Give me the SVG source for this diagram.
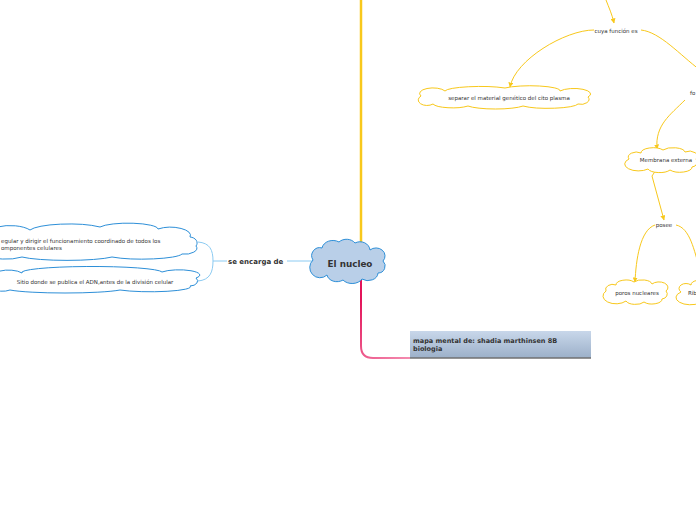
<svg xmlns="http://www.w3.org/2000/svg" width="696" height="520" viewBox="0 0 696 520">
<style>
.t{font-family:"DejaVu Sans",Verdana,sans-serif;fill:#333}
.s{font-size:5.5px}
.b{font-weight:bold}
.yc{fill:#fff;stroke:#f8c81c;stroke-width:1}
.bc{fill:#fff;stroke:#2d8fd8;stroke-width:1}
.yl{fill:none;stroke:#f8c81c;stroke-width:1}
.bl{fill:none;stroke:#8ccbf2;stroke-width:1}
</style>
<defs>
<marker id="ah" viewBox="0 0 10 10" refX="9" refY="5" markerWidth="5" markerHeight="5" orient="auto" markerUnits="userSpaceOnUse">
<path d="M0 0 L10 5 L0 10 z" fill="#f8c81c"/>
</marker>
<linearGradient id="tg" x1="0" y1="0" x2="0" y2="1">
<stop offset="0" stop-color="#c8d7ea"/>
<stop offset="1" stop-color="#9cb0c9"/>
</linearGradient>
<linearGradient id="pg" gradientUnits="userSpaceOnUse" x1="361" y1="300" x2="410" y2="358">
<stop offset="0" stop-color="#e3145a"/>
<stop offset="1" stop-color="#f48cb0"/>
</linearGradient>
</defs>
<rect width="696" height="520" fill="#fff"/>
<g id="connectors">
<line x1="361" y1="0" x2="361" y2="250" stroke="#f8c81c" stroke-width="2.5"/>
<path d="M361 276 L361 346 Q361 358 373 358 L410 358" fill="none" stroke="url(#pg)" stroke-width="2"/>
<line x1="287" y1="261" x2="313" y2="261" class="bl"/>
<line x1="213" y1="261" x2="227" y2="261" class="bl"/>
<path d="M198 242 C210 243 213 250 213 261 C213 272 210 280 198 281" class="bl"/>
<path d="M606 0 C609 8 612 14 614 23" class="yl" marker-end="url(#ah)"/>
<path d="M594 30 C565 30 515 60 510 87" class="yl" marker-end="url(#ah)"/>
<path d="M641 30 C660 32 680 55 700 70" class="yl"/>
<path d="M685 100 C670 115 655 125 657 149" class="yl" marker-end="url(#ah)"/>
<path d="M656 170 L652 176 L664 220" class="yl" marker-end="url(#ah)"/>
<path d="M655 225 C640 230 636 260 635 282" class="yl" marker-end="url(#ah)"/>
<path d="M676 225 C690 228 694 250 700 270" class="yl"/>
</g>
<g id="central">
<path d="M313 260 a8 8 0 0 1 9 -12 a11 9 0 0 1 17 -6 a10 8 0 0 1 16 1 a10 9 0 0 1 15 7 a9 8 0 0 1 13 11 a7 7 0 0 1 -5 12 a10 8 0 0 1 -16 6 a11 8 0 0 1 -19 1 a10 8 0 0 1 -16 -5 a8 8 0 0 1 -14 -15 z" fill="#b9cfe8" stroke="#2d8fd8" stroke-width="1"/>
<text x="350" y="267" text-anchor="middle" class="t b" font-size="8.8">El nucleo</text>
</g>
<g id="title">
<rect x="410" y="331" width="181" height="27" fill="url(#tg)"/>
<line x1="410" y1="358" x2="591" y2="358" stroke="#707070" stroke-width="1.5"/>
<text x="413" y="343" class="t b" font-size="6.5" fill="#222">mapa mental de: shadia marthinsen 8B</text>
<text x="413" y="351" class="t b" font-size="6.5" fill="#222">biologia</text>
</g>
<g id="se-encarga">
<text x="228" y="264" class="t b" font-size="7">se encarga de</text>
</g>
<g id="regular">
<path d="M-10 240 a20 8 0 0 1 40 -10 a40 8 0 0 1 70 -3 a30 6 0 0 1 58 2 a20 8 0 0 1 32 8 a8 6 0 0 1 6 9 a12 6 0 0 1 -14 8 a40 6 0 0 1 -70 3 a50 6 0 0 1 -90 0 a20 8 0 0 1 -32 -17 z" class="bc"/>
<text x="1" y="243" class="t s">egular y dirigir el funcionamiento coordinado de todos los</text>
<text x="1" y="250" class="t s">omponentes celulares</text>
</g>
<g id="sitio">
<path d="M-5 280 a15 6 0 0 1 27 -7 a70 6 0 0 1 140 -1 a20 5 0 0 1 34 6 a8 5 0 0 1 -6 8 a40 5 0 0 1 -70 4 a60 5 0 0 1 -110 0 a12 6 0 0 1 -15 -10 z" class="bc"/>
<text x="95" y="284" text-anchor="middle" class="t s">Sitio donde se publica el ADN,antes de la división celular</text>
</g>
<g id="cuya">
<text x="616" y="33" text-anchor="middle" class="t s">cuya función es</text>
</g>
<g id="separar">
<path d="M421 96 a12 5 0 0 1 24 -5 a35 5 0 0 1 60 -3 a30 5 0 0 1 55 3 a15 5 0 0 1 28 6 a8 5 0 0 1 -10 7 a30 5 0 0 1 -55 2 a30 5 0 0 1 -55 0 a20 5 0 0 1 -35 -2 a8 5 0 0 1 -12 -8 z" class="yc"/>
<text x="509" y="100" text-anchor="middle" class="t s">separar el material genético del cito plasma</text>
</g>
<g id="fo">
<text x="690" y="95" class="t s">fo</text>
</g>
<g id="membrana">
<path d="M629 159 a8 5 0 0 1 12 -6 a12 5 0 0 1 22 -3 a12 5 0 0 1 22 2 a8 5 0 0 1 11 7 a6 5 0 0 1 -4 8 a12 5 0 0 1 -22 3 a12 5 0 0 1 -22 -1 a10 5 0 0 1 -19 -10 z" class="yc"/>
<text x="666" y="162" text-anchor="middle" class="t s">Membrana externa</text>
</g>
<g id="posee">
<text x="664" y="227" text-anchor="middle" class="t s">posee</text>
</g>
<g id="poros">
<path d="M606 291 a7 5 0 0 1 10 -6 a10 5 0 0 1 18 -3 a10 5 0 0 1 18 2 a8 5 0 0 1 14 7 a6 5 0 0 1 -4 8 a10 5 0 0 1 -18 3 a10 5 0 0 1 -18 -1 a10 6 0 0 1 -20 -10 z" class="yc"/>
<text x="637" y="295" text-anchor="middle" class="t s">poros nucleares</text>
</g>
<g id="rib">
<path d="M681 292 a7 5 0 0 1 10 -7 a10 5 0 0 1 18 -3 L720 282 L720 303 L700 303 a10 5 0 0 1 -19 -11 z" class="yc"/>
<text x="688" y="295" class="t s">Rib</text>
</g>
</svg>
